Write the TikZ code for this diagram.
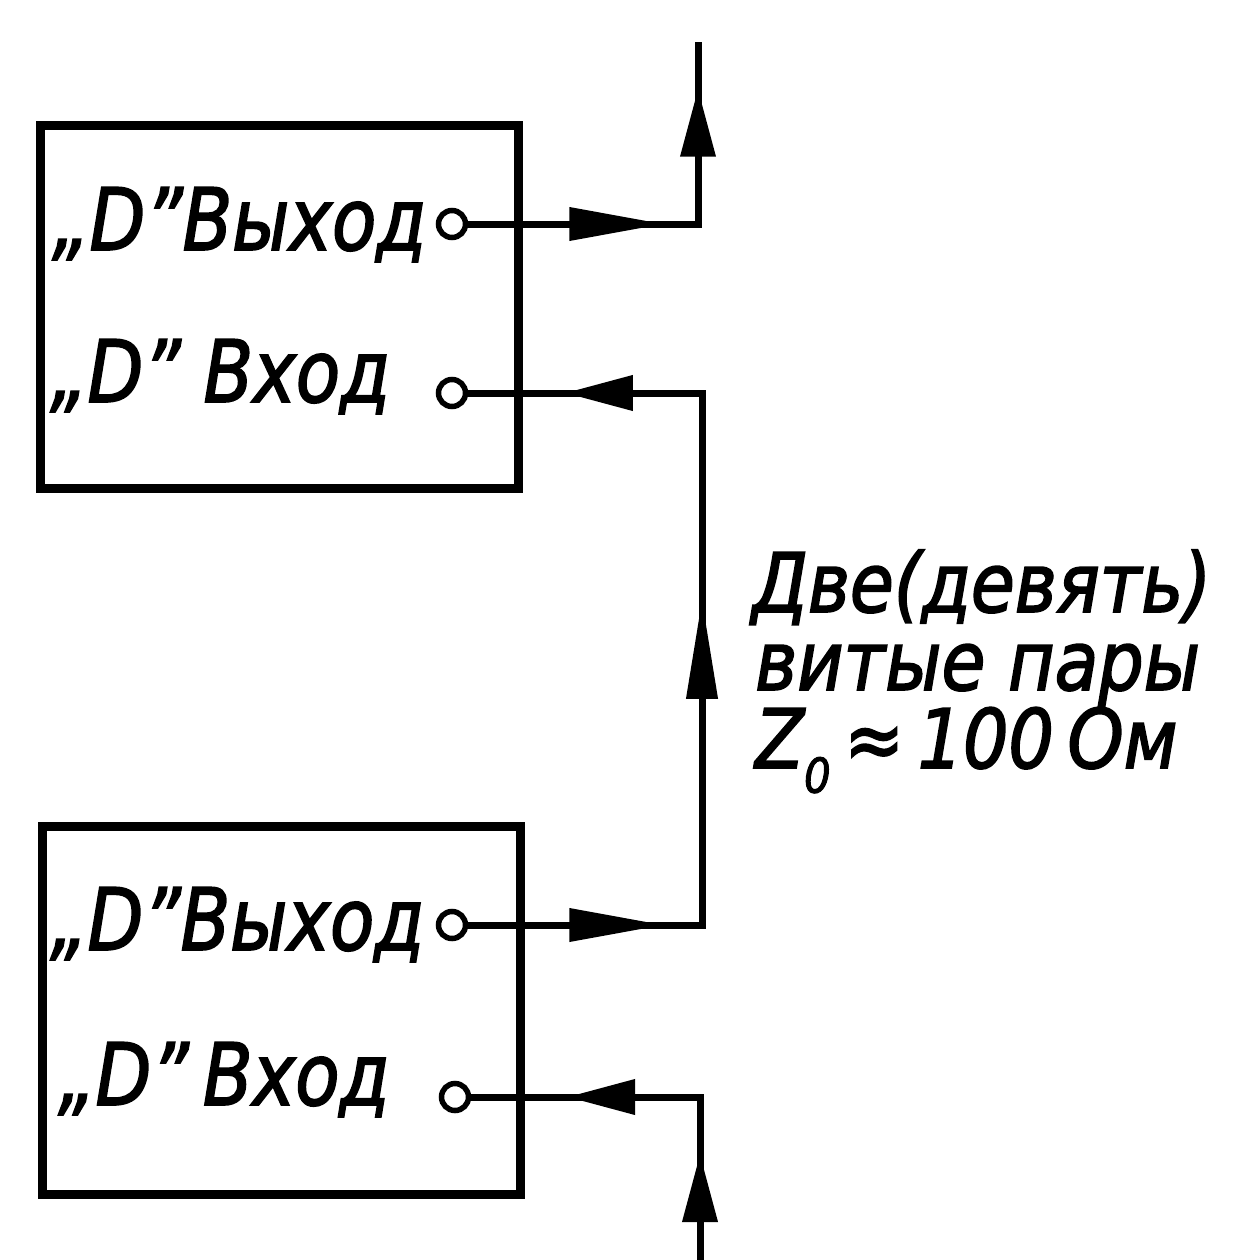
\documentclass[tikz,border=0pt]{standalone}
\usepackage{fontspec}
\newfontfamily\gost[FakeStretch=0.84, FakeBold=2]{DejaVu Sans}
\newfontfamily\gostn[FakeStretch=0.87, FakeBold=2]{DejaVu Sans}
\usetikzlibrary{arrows.meta,decorations.markings}
\tikzset{
  box/.style={draw, line width=9pt, inner sep=0pt, outer sep=0pt},
  term/.style={circle, draw, line width=5.5pt, minimum size=27pt, inner sep=0pt, fill=white},
  wire/.style={line width=7pt, line join=miter},
  lbl/.style={font=\gost\itshape\fontsize{86}{90}\selectfont, inner sep=0pt, anchor=base west},
  note/.style={font=\gostn\itshape\fontsize{82}{86}\selectfont, inner sep=0pt, anchor=base west},
  longtip/.tip={Triangle[length=95pt,width=32pt]},
  shorttip/.tip={Triangle[length=68pt,width=34pt]}
}
\begin{document}
\begin{tikzpicture}[x=1pt,y=-1pt]
\useasboundingbox (0,0) rectangle (1245,1260);
% boxes
\node[box, minimum width=478pt, minimum height=362pt] (b1) at (279,307) {};
\node[box, minimum width=478pt, minimum height=368pt] (b2) at (281,1010) {};
% terminals
\node[term] (c1o) at (452,224) {};
\node[term] (c1i) at (452,393) {};
\node[term] (c2o) at (452,925) {};
\node[term] (c2i) at (455,1097) {};
% corner coordinates
\coordinate (k1) at (698,224);
\coordinate (top) at (698,42);
\coordinate (k2) at (702,925);
\coordinate (k3) at (702,393);
\coordinate (bot) at (700,1262);
\coordinate (k4) at (700,1097);
% texts
\node[lbl] (t1a) at (52,250) {„D”Выход};
\node[lbl] (t1b) at (50,402) {„D” Вход};
\node[lbl] (t2a) at (50,950) {„D”Выход};
\node[lbl] (t2b) at (58,1105) {„D”\,Вход};
\node[note] (n1) at (752,612) {Две(девять)};
\node[note] (n2) at (755,690) {витые пары};
\node[note] (n3) at (755,768) {Z\raisebox{-0.3em}{\fontsize{48}{48}\selectfont 0}\,≈\,100\,Ом};
% wires
\draw[wire, postaction={decorate}, decoration={markings,
  mark=at position 196pt with {\arrow{longtip}},
  mark=at position 365pt with {\arrow{shorttip}}}]
  (c1o.east) -- (k1) -- (top);
\draw[wire, postaction={decorate}, decoration={markings,
  mark=at position 196pt with {\arrow{longtip}},
  mark=at position 560pt with {\arrow{Triangle[length=100pt,width=30pt]}},
  mark=at position 903pt with {\arrow{shorttip}}}]
  (c2o.east) -- (k2) -- (k3) -- (c1i.east);
\draw[wire, postaction={decorate}, decoration={markings,
  mark=at position 108pt with {\arrow{shorttip}},
  mark=at position 298pt with {\arrow{shorttip}}}]
  (bot) -- (k4) -- (c2i.east);
\end{tikzpicture}
\end{document}
